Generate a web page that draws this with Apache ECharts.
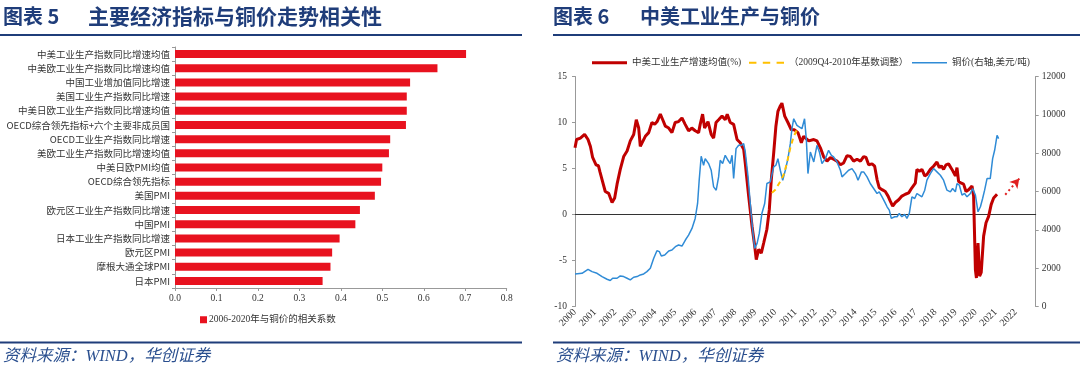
<!DOCTYPE html>
<html><head><meta charset="utf-8">
<script src="https://cdn.jsdelivr.net/npm/echarts@6/dist/echarts.min.js"></script>
<style>html,body{margin:0;padding:0;background:#fff}#c{width:1080px;height:373px}</style>
</head><body><div id="c"></div>
<script>
const categories = ['中美工业生产指数同比增速均值','中美欧工业生产指数同比增速均值','中国工业增加值同比增速','美国工业生产指数同比增速','中美日欧工业生产指数同比增速均值','OECD综合领先指标+六个主要非成员国','OECD工业生产指数同比增速','美欧工业生产指数同比增速均值','中美日欧PMI均值','OECD综合领先指标','美国PMI','欧元区工业生产指数同比增速','中国PMI','日本工业生产指数同比增速','欧元区PMI','摩根大通全球PMI','日本PMI'];
const corrValues = [0.702,0.633,0.567,0.559,0.559,0.557,0.519,0.516,0.500,0.497,0.482,0.446,0.435,0.397,0.379,0.375,0.356];
const corrTicks = ['0.0','0.1','0.2','0.3','0.4','0.5','0.6','0.7','0.8'];
const yearLabels = ['2000','2001','2002','2003','2004','2005','2006','2007','2008','2009','2010','2011','2012','2013','2014','2015','2016','2017','2018','2019','2020','2021','2022'];
const ipGrowth = [[2000.00,7.25],[2000.08,8.15],[2000.27,8.3],[2000.48,8.7],[2000.65,8.15],[2000.77,7.4],[2000.88,6.2],[2001.05,5.4],[2001.12,5.2],[2001.17,5.3],[2001.25,4.6],[2001.35,3.8],[2001.51,2.5],[2001.68,2.3],[2001.85,1.3],[2001.98,1.8],[2002.10,3.3],[2002.26,4.9],[2002.43,6.3],[2002.60,6.9],[2002.76,8.0],[2002.93,8.7],[2003.06,10.3],[2003.18,9.4],[2003.26,7.4],[2003.35,7.25],[2003.51,8.5],[2003.68,8.9],[2003.84,10.0],[2003.98,9.8],[2004.10,10.1],[2004.26,10.9],[2004.38,10.3],[2004.51,9.6],[2004.68,9.4],[2004.84,8.9],[2005.00,10.0],[2005.17,10.1],[2005.34,10.5],[2005.50,9.8],[2005.67,9.1],[2005.83,9.4],[2006.00,9.1],[2006.17,8.9],[2006.25,9.8],[2006.37,10.9],[2006.47,9.4],[2006.64,10.1],[2006.80,8.7],[2006.92,8.3],[2007.04,10.0],[2007.17,10.3],[2007.34,10.7],[2007.50,10.3],[2007.60,10.9],[2007.75,10.0],[2007.92,9.8],[2008.09,8.15],[2008.25,7.8],[2008.42,7.1],[2008.50,5.6],[2008.67,2.0],[2008.84,-1.3],[2008.97,-3.4],[2009.05,-4.9],[2009.17,-3.8],[2009.30,-4.2],[2009.42,-3.1],[2009.58,-1.6],[2009.70,0.5],[2009.80,3.8],[2009.92,6.7],[2010.03,9.6],[2010.13,11.2],[2010.25,11.8],[2010.33,12.1],[2010.47,10.7],[2010.63,10.0],[2010.80,9.2],[2010.96,9.2],[2011.13,8.9],[2011.30,7.8],[2011.41,8.5],[2011.50,8.5],[2011.67,8.0],[2011.92,8.15],[2012.08,8.0],[2012.25,7.25],[2012.41,6.3],[2012.58,5.8],[2012.75,6.2],[2012.91,6.0],[2013.08,5.8],[2013.25,5.4],[2013.41,5.6],[2013.58,6.4],[2013.75,6.3],[2013.91,5.8],[2014.08,6.0],[2014.25,5.8],[2014.41,6.3],[2014.53,6.2],[2014.66,5.4],[2014.83,5.5],[2014.96,5.25],[2015.08,3.8],[2015.19,2.9],[2015.33,2.7],[2015.49,2.5],[2015.63,2.0],[2015.74,1.45],[2015.86,0.9],[2015.99,1.3],[2016.16,1.6],[2016.32,2.0],[2016.49,2.2],[2016.66,2.35],[2016.82,2.9],[2016.99,3.4],[2017.07,4.9],[2017.19,4.7],[2017.32,4.9],[2017.46,4.2],[2017.57,4.35],[2017.74,4.9],[2017.90,5.25],[2018.07,5.7],[2018.19,5.1],[2018.29,5.3],[2018.40,4.9],[2018.52,5.4],[2018.65,5.5],[2018.82,4.9],[2018.99,4.2],[2019.07,5.1],[2019.15,3.6],[2019.29,3.4],[2019.40,3.3],[2019.52,2.5],[2019.65,2.7],[2019.82,3.1],[2019.90,2.0],[2019.99,-6.0],[2020.04,-6.9],[2020.12,-3.1],[2020.20,-6.7],[2020.28,-6.3],[2020.40,-2.35],[2020.52,-0.9],[2020.65,-0.2],[2020.78,1.1],[2020.90,1.8],[2021.07,2.2]];
const copperPrice = [[2000.00,1699],[2000.35,1734],[2000.65,1942],[2000.85,1820],[2001.10,1734],[2001.35,1560],[2001.60,1422],[2001.76,1353],[2001.88,1474],[2002.10,1474],[2002.26,1595],[2002.43,1560],[2002.60,1474],[2002.76,1387],[2002.93,1526],[2003.10,1560],[2003.26,1647],[2003.43,1699],[2003.59,1820],[2003.76,1994],[2003.93,2514],[2004.09,2913],[2004.21,2861],[2004.31,2636],[2004.48,2688],[2004.68,2896],[2004.84,2948],[2005.01,3121],[2005.17,3208],[2005.34,3156],[2005.51,3468],[2005.67,3728],[2005.84,4075],[2006.00,4595],[2006.12,5375],[2006.20,6589],[2006.30,7838],[2006.42,7370],[2006.50,7716],[2006.67,7456],[2006.80,7109],[2006.92,6242],[2007.05,6069],[2007.17,6763],[2007.25,7630],[2007.37,7456],[2007.50,7890],[2007.64,7630],[2007.75,7456],[2007.84,7890],[2007.92,6676],[2008.04,8237],[2008.17,8410],[2008.30,8410],[2008.42,8497],[2008.50,8063],[2008.64,6763],[2008.75,5375],[2008.87,3988],[2008.97,3035],[2009.09,3295],[2009.20,3815],[2009.33,4855],[2009.47,5375],[2009.58,6416],[2009.75,6502],[2009.92,7283],[2010.03,7370],[2010.13,7716],[2010.25,7109],[2010.37,6589],[2010.50,7109],[2010.63,7716],[2010.75,8497],[2010.83,9277],[2010.92,9797],[2011.08,9450],[2011.21,9364],[2011.33,9277],[2011.46,9797],[2011.55,8700],[2011.63,6936],[2011.75,8063],[2011.92,7543],[2012.08,8410],[2012.20,8063],[2012.33,7456],[2012.50,7716],[2012.66,8150],[2012.80,7890],[2012.91,7803],[2013.08,7543],[2013.25,7109],[2013.33,6763],[2013.50,6936],[2013.66,7109],[2013.83,7196],[2014.00,6936],[2014.13,6589],[2014.30,7023],[2014.41,7023],[2014.58,6763],[2014.74,6416],[2014.91,6156],[2015.08,5896],[2015.19,5982],[2015.33,5722],[2015.46,5462],[2015.58,5202],[2015.69,5029],[2015.79,4595],[2015.96,4682],[2016.08,4682],[2016.19,4855],[2016.32,4682],[2016.46,4803],[2016.57,4595],[2016.69,4855],[2016.82,5722],[2016.96,5635],[2017.07,5896],[2017.19,5809],[2017.32,5722],[2017.46,6069],[2017.57,6589],[2017.74,6936],[2017.90,7196],[2018.07,7023],[2018.24,6849],[2018.40,6589],[2018.57,6069],[2018.74,5982],[2018.85,6156],[2018.99,5982],[2019.07,6416],[2019.19,6329],[2019.32,5809],[2019.45,5896],[2019.57,5722],[2019.74,5896],[2019.85,6156],[2019.99,5809],[2020.12,4942],[2020.24,5202],[2020.35,5635],[2020.45,6069],[2020.57,6676],[2020.73,6676],[2020.85,7716],[2020.95,8150],[2021.07,8930],[2021.15,8757]];
const baseAdjusted = [[2009.83,2.35],[2010.00,2.7],[2010.25,3.6],[2010.42,4.35],[2010.58,5.6],[2010.75,7.25],[2010.92,8.5],[2011.08,9.2]];
const trendArrow = [[2021.48,2.15],[2022.18,3.9]];

const serif = "'Liberation Serif','Noto Sans CJK SC',serif";
const cjk = "'Noto Sans CJK SC',sans-serif";
const navy = '#1f3d7a';
const chart = echarts.init(document.getElementById('c'), null, {renderer:'canvas'});
chart.setOption({
  animation:false,
  backgroundColor:'#fff',
  graphic:[
    {type:'text', left:3, top:6, style:{text:'图表 5', font:"bold 20px "+cjk, fill:navy}},
    {type:'text', left:88, top:6, style:{text:'主要经济指标与铜价走势相关性', font:"bold 21px "+cjk, fill:navy}},
    {type:'text', left:553, top:6, style:{text:'图表 6', font:"bold 20px "+cjk, fill:navy}},
    {type:'text', left:640, top:6, style:{text:'中美工业生产与铜价', font:"bold 20px "+cjk, fill:navy}},
    {type:'line', shape:{x1:0,y1:35,x2:522,y2:35}, style:{stroke:navy,lineWidth:2}},
    {type:'line', shape:{x1:553,y1:35,x2:1080,y2:35}, style:{stroke:navy,lineWidth:2}},
    {type:'line', shape:{x1:0,y1:342.5,x2:522,y2:342.5}, style:{stroke:navy,lineWidth:2}},
    {type:'line', shape:{x1:553,y1:342.5,x2:1080,y2:342.5}, style:{stroke:navy,lineWidth:2}},
    {type:'text', left:3, top:348, style:{text:'资料来源：WIND，华创证券', font:"italic 16.5px "+serif, fill:'#2a4f8f'}},
    {type:'text', left:556, top:348, style:{text:'资料来源：WIND，华创证券', font:"italic 16.5px "+serif, fill:'#2a4f8f'}}
  ],
  legend:[
    {data:['2006-2020年与铜价的相关系数'], left:195, top:310, icon:'rect', itemWidth:7, itemHeight:7, itemGap:2,
     textStyle:{fontFamily:serif, fontSize:9.5, color:'#333', padding:[0,0,0,-3]}},
    {data:[{name:'中美工业生产增速均值(%)', icon:'path://M0,0H35V3H0Z'}], left:587, top:53, itemWidth:35, itemHeight:3,
     textStyle:{fontFamily:serif, fontSize:9.5, color:'#333'}},
    {data:[{name:'（2009Q4-2010年基数调整）', icon:'path://M0,0H7V2H0Z M13,0H20V2H13Z M26,0H33V2H26Z'}], left:744, top:53, itemWidth:35, itemHeight:2.5,
     textStyle:{fontFamily:serif, fontSize:9.5, color:'#333'}},
    {data:[{name:'铜价(右轴,美元/吨)', icon:'path://M0,0H35V1.5H0Z'}], left:907, top:53, itemWidth:35, itemHeight:1.6,
     textStyle:{fontFamily:serif, fontSize:9.5, color:'#333'}}
  ],
  grid:[
    {left:175, top:47, width:331.7, height:241},
    {left:575, top:76.5, width:460.7, height:230}
  ],
  xAxis:[
    {type:'value', gridIndex:0, min:0, max:0.8, interval:0.1,
     axisLine:{show:true, lineStyle:{color:'#999'}}, axisTick:{show:true, length:3, lineStyle:{color:'#999'}},
     splitLine:{show:false},
     axisLabel:{fontFamily:serif, fontSize:9.5, color:'#333', margin:6, formatter:(v)=>corrTicks[Math.round(v*10)]}},
    {type:'value', gridIndex:1, min:2000, max:2023, interval:1,
     axisLine:{show:true, onZero:true, onZeroAxisIndex:1, lineStyle:{color:'#333', width:1}},
     axisTick:{show:false}, splitLine:{show:false},
     axisLabel:{rotate:45, fontFamily:serif, fontSize:10, color:'#333', margin:4,
       formatter:(v)=>{const i=Math.round(v-2000); return yearLabels[i]||'';}}}
  ],
  yAxis:[
    {type:'category', gridIndex:0, data:categories, inverse:true,
     axisLine:{show:true, lineStyle:{color:'#999'}}, axisTick:{show:true, length:3, lineStyle:{color:'#999'}},
     axisLabel:{fontFamily:cjk, fontSize:9.5, color:'#333', margin:5}},
    {type:'value', gridIndex:1, min:-10, max:15, interval:5, position:'left',
     axisLine:{show:true, onZero:false, lineStyle:{color:'#999'}}, axisTick:{show:true, length:3, lineStyle:{color:'#999'}},
     splitLine:{show:false},
     axisLabel:{fontFamily:serif, fontSize:9.5, color:'#333', margin:8}},
    {type:'value', gridIndex:1, min:0, max:12000, interval:2000, position:'right',
     axisLine:{show:true, onZero:false, lineStyle:{color:'#999'}}, axisTick:{show:true, length:3, lineStyle:{color:'#999'}},
     splitLine:{show:false},
     axisLabel:{fontFamily:serif, fontSize:9.5, color:'#333', margin:6, formatter:(v)=>String(v)}}
  ],
  series:[
    {name:'2006-2020年与铜价的相关系数', type:'bar', xAxisIndex:0, yAxisIndex:0, data:corrValues, barWidth:8,
     itemStyle:{color:'#e8121f'}},
    {name:'铜价(右轴,美元/吨)', type:'line', xAxisIndex:1, yAxisIndex:2, data:copperPrice, symbol:'none',
     lineStyle:{color:'#2f8bd6', width:1.5}, itemStyle:{color:'#2f8bd6'}, z:3},
    {name:'（2009Q4-2010年基数调整）', type:'line', xAxisIndex:1, yAxisIndex:1, data:baseAdjusted, symbol:'none',
     lineStyle:{color:'#ffc000', width:2, type:[5,4]}, itemStyle:{color:'#ffc000'}, z:4},
    {name:'中美工业生产增速均值(%)', type:'line', xAxisIndex:1, yAxisIndex:1, data:ipGrowth, symbol:'none',
     lineStyle:{color:'#c00000', width:3}, itemStyle:{color:'#c00000'}, z:2,
     markLine:{silent:true, symbol:['none','arrow'], symbolSize:[8,9], label:{show:false},
       lineStyle:{color:'#e02020', width:2, type:[2,3]},
       data:[[{coord:trendArrow[0]},{coord:trendArrow[1]}]]}}
  ]
});
</script></body></html>
